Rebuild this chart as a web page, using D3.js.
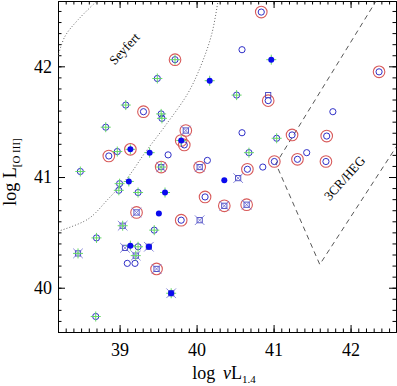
<!DOCTYPE html>
<html>
<head>
<meta charset="utf-8">
<script src="https://cdn.jsdelivr.net/npm/d3@7"></script>
<style>
body { margin: 0; background: #fff; }
svg { display: block; font-family: "Liberation Serif", "DejaVu Serif", serif; }
</style>
</head>
<body>
<div id="chart"></div>
<script>
// points: log nuL_1.4 vs log L_[O III]
// symbol codes: r = red ring, c = blue circle, s = blue square, x = blue cross (boxed),
// p = green plus, f = filled blue dot
var logRadio = [39.72, 39.49, 40.17, 40.52, 39.08, 39.31, 39.54, 39.55, 38.82, 39.86,
                39.80, 39.84, 38.86, 38.97, 39.14, 39.39, 39.63, 40.14, 39.54, 40.04,
                38.49, 40.36, 40.54, 39.12, 39.00, 38.99, 39.24, 39.59, 40.11, 40.36,
                40.65, 39.22, 39.51, 39.80, 40.04, 39.04, 39.45, 38.70, 39.14, 39.07,
                39.24, 39.38, 39.21, 38.46, 39.10, 39.20, 39.48, 39.67, 38.69, 40.84,
                40.59, 40.97, 42.37, 40.93, 40.93, 41.77, 40.59, 41.24, 41.69, 41.04,
                41.43, 40.68, 41.01, 41.31, 41.68, 40.86, 40.66];
var logOIII = [42.06, 41.89, 41.87, 41.74, 41.65, 41.59, 41.57, 41.53, 41.45, 41.42,
               41.33, 41.29, 41.19, 41.23, 41.25, 41.22, 41.20, 41.15, 41.09, 41.09,
               41.05, 40.97, 40.99, 40.96, 40.94, 40.88, 40.86, 40.86, 40.82, 40.74,
               40.75, 40.68, 40.67, 40.61, 40.61, 40.56, 40.52, 40.45, 40.38, 40.36,
               40.37, 40.37, 40.29, 40.31, 40.22, 40.22, 40.17, 39.95, 39.74, 42.49,
               42.15, 42.06, 41.95, 41.74, 41.69, 41.59, 41.40, 41.38, 41.37, 41.35,
               41.22, 41.22, 41.14, 41.16, 41.14, 41.09, 41.07];
var symbolCodes = ["rpc", "pc", "fp", "pc", "pc", "rc", "pc", "pc", "pc", "rx",
                   "rfp", "rc", "rc", "pc", "rfp", "fp", "c", "c", "rxp", "rx",
                   "pc", "f", "x", "fp", "pc", "pc", "pc", "fp", "rc", "rx",
                   "rx", "rx", "f", "rc", "x", "xp", "pc", "pc", "fp", "x",
                   "pc", "fx", "xp", "xp", "c", "c", "rx", "fxp", "pc", "rc",
                   "c", "fp", "rc", "s", "rc", "c", "c", "rc", "rc", "pc",
                   "c", "pc", "rc", "rc", "rc", "c", "rc"];

// dividing lines
var seyfertTopX = [38.2, 38.29, 38.46, 38.72];
var seyfertTopY = [42.09, 42.27, 42.42, 42.6];
var seyfertBottomX = [38.2, 38.59, 38.85, 39.11, 39.33, 39.59, 39.89, 40.07, 40.2, 40.28];
var seyfertBottomY = [40.51, 40.62, 40.80, 41.0, 41.22, 41.46, 41.76, 42.03, 42.30, 42.6];
var hegX = [42.34, 41.03, 41.60, 42.6];
var hegY = [42.6, 41.12, 40.21, 41.28];

var xMajor = [39, 40, 41, 42];
var yMajor = [40, 41, 42];

var svgWidth = 397, svgHeight = 386;
var plotLeft = 58, plotRight = 396, plotTop = 1, plotBottom = 332;

var svg = d3.select("#chart").append("svg")
  .attr("width", svgWidth)
  .attr("height", svgHeight);

var x = d3.scaleLinear().domain([38.2, 42.59]).range([plotLeft, plotRight]);
var y = d3.scaleLinear().domain([39.6, 42.59]).range([plotBottom, plotTop]);

var xMinor = d3.range(38.3, 42.6, 0.1).map(function(v) { return Math.round(v * 10) / 10; });
var yMinor = d3.range(39.6, 42.6, 0.1).map(function(v) { return Math.round(v * 10) / 10; });

// axes with inward ticks on all four sides
function minorAxis(axis, ticks) {
  return axis.tickValues(ticks).tickSize(-3.5).tickSizeOuter(0).tickFormat("");
}
svg.append("g").attr("transform", "translate(0," + plotBottom + ")").call(minorAxis(d3.axisBottom(x), xMinor));
svg.append("g").attr("transform", "translate(0," + plotTop + ")").call(minorAxis(d3.axisTop(x), xMinor));
svg.append("g").attr("transform", "translate(" + plotLeft + ",0)").call(minorAxis(d3.axisLeft(y), yMinor));
svg.append("g").attr("transform", "translate(" + plotRight + ",0)").call(minorAxis(d3.axisRight(y), yMinor));

var gx = svg.append("g").attr("transform", "translate(0," + plotBottom + ")")
  .call(d3.axisBottom(x).tickValues(xMajor).tickSize(-7).tickSizeOuter(0).tickPadding(11).tickFormat(d3.format("d")));
svg.append("g").attr("transform", "translate(0," + plotTop + ")")
  .call(d3.axisTop(x).tickValues(xMajor).tickSize(-7).tickSizeOuter(0).tickFormat(""));
var gy = svg.append("g").attr("transform", "translate(" + plotLeft + ",0)")
  .call(d3.axisLeft(y).tickValues(yMajor).tickSize(-7).tickSizeOuter(0).tickPadding(6).tickFormat(d3.format("d")));
svg.append("g").attr("transform", "translate(" + plotRight + ",0)")
  .call(d3.axisRight(y).tickValues(yMajor).tickSize(-7).tickSizeOuter(0).tickFormat(""));

svg.selectAll(".domain, .tick line").attr("stroke", "#000").attr("stroke-width", 1);
gx.selectAll("text").attr("font-size", 18).attr("font-family", "Liberation Serif").attr("fill", "#000");
gy.selectAll("text").attr("font-size", 18).attr("font-family", "Liberation Serif").attr("fill", "#000");

// axis titles
var xt = svg.append("text")
  .attr("x", 224).attr("y", 379)
  .attr("text-anchor", "middle")
  .attr("font-size", 18);
xt.append("tspan").text("log ");
xt.append("tspan").attr("font-style", "italic").attr("dx", 3).text("\u03bd");
xt.append("tspan").text("L");
xt.append("tspan").attr("font-size", 11).attr("dy", 4).text("1.4");

var yt = svg.append("text")
  .attr("transform", "translate(16,172) rotate(-90)")
  .attr("text-anchor", "middle")
  .attr("font-size", 18);
yt.append("tspan").text("log L");
yt.append("tspan").attr("font-size", 11).attr("dy", 4).text("[O III]");

// lines
svg.append("clipPath").attr("id", "plotclip")
  .append("rect").attr("x", plotLeft).attr("y", plotTop)
  .attr("width", plotRight - plotLeft).attr("height", plotBottom - plotTop);

var line = d3.line().curve(d3.curveCatmullRom)
  .x(function(d) { return x(d[0]); })
  .y(function(d) { return y(d[1]); });

var lines = svg.append("g").attr("clip-path", "url(#plotclip)");
lines.append("path")
  .attr("d", line(d3.zip(seyfertTopX, seyfertTopY)))
  .attr("fill", "none").attr("stroke", "#666").attr("stroke-width", 1)
  .attr("stroke-dasharray", "1,2");
lines.append("path")
  .attr("d", line(d3.zip(seyfertBottomX, seyfertBottomY)))
  .attr("fill", "none").attr("stroke", "#666").attr("stroke-width", 1)
  .attr("stroke-dasharray", "1,2");
lines.append("path")
  .attr("d", d3.line().x(function(d) { return x(d[0]); }).y(function(d) { return y(d[1]); })(d3.zip(hegX, hegY)))
  .attr("fill", "none").attr("stroke", "#444").attr("stroke-width", 0.9)
  .attr("stroke-dasharray", "5,4");

svg.append("text")
  .attr("transform", "translate(" + x(39.06) + "," + y(42.16) + ") rotate(-47)")
  .attr("text-anchor", "middle").attr("dy", "0.35em")
  .attr("font-size", 13).text("Seyfert");
svg.append("text")
  .attr("transform", "translate(" + x(41.92) + "," + y(40.99) + ") rotate(-48)")
  .attr("text-anchor", "middle").attr("dy", "0.35em")
  .attr("font-size", 13).text("3CR/HEG");

// points
var pts = d3.range(logRadio.length).map(function(i) {
  return { x: x(logRadio[i]), y: y(logOIII[i]), s: symbolCodes[i] };
});
var has = function(k) { return function(d) { return d.s.indexOf(k) >= 0; }; };

var marks = svg.append("g");
marks.selectAll(".ring").data(pts.filter(has("r"))).enter().append("circle")
  .attr("cx", function(d) { return d.x; }).attr("cy", function(d) { return d.y; })
  .attr("r", 5.8).attr("fill", "none").attr("stroke", "#d85a5a").attr("stroke-width", 1.1);
marks.selectAll(".open").data(pts.filter(has("c"))).enter().append("circle")
  .attr("cx", function(d) { return d.x; }).attr("cy", function(d) { return d.y; })
  .attr("r", 3.1).attr("fill", "none").attr("stroke", "#3030c8").attr("stroke-width", 1);
marks.selectAll(".sq").data(pts.filter(function(d) { return has("s")(d) || has("x")(d); })).enter().append("rect")
  .attr("x", function(d) { return d.x - 2.6; }).attr("y", function(d) { return d.y - 2.6; })
  .attr("width", 5.2).attr("height", 5.2)
  .attr("fill", "none").attr("stroke", "#4040c0").attr("stroke-width", 0.9);
marks.selectAll(".cross").data(pts.filter(has("x"))).enter().append("path")
  .attr("d", function(d) {
    var a = 4.8;
    return "M" + (d.x - a) + "," + (d.y - a) + "L" + (d.x + a) + "," + (d.y + a) +
           "M" + (d.x - a) + "," + (d.y + a) + "L" + (d.x + a) + "," + (d.y - a);
  })
  .attr("stroke", "#6a6ad0").attr("stroke-width", 0.8);
marks.selectAll(".plus").data(pts.filter(has("p"))).enter().append("path")
  .attr("d", function(d) {
    var a = 5;
    return "M" + (d.x - a) + "," + d.y + "L" + (d.x + a) + "," + d.y +
           "M" + d.x + "," + (d.y - a) + "L" + d.x + "," + (d.y + a);
  })
  .attr("stroke", "#66d866").attr("stroke-width", 1);
marks.selectAll(".dot").data(pts.filter(has("f"))).enter().append("circle")
  .attr("cx", function(d) { return d.x; }).attr("cy", function(d) { return d.y; })
  .attr("r", 3).attr("fill", "#0a0aee").attr("stroke", "none");
</script>
</body>
</html>
